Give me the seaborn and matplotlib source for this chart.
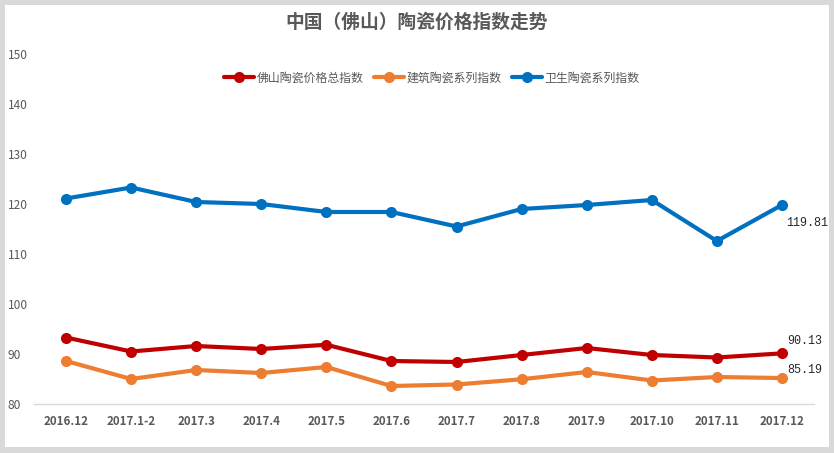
import pandas as pd
import matplotlib
matplotlib.use("Agg")
import matplotlib.pyplot as plt
from matplotlib.patches import Rectangle
import seaborn as sns

months = ["2016.12", "2017.1-2", "2017.3", "2017.4", "2017.5", "2017.6",
          "2017.7", "2017.8", "2017.9", "2017.10", "2017.11", "2017.12"]
total_index = [93.3, 90.5, 91.6, 91.0, 91.85, 88.6, 88.4, 89.8, 91.2, 89.8, 89.3, 90.13]
building_index = [88.6, 85.0, 86.8, 86.2, 87.4, 83.6, 83.9, 84.95, 86.4, 84.7, 85.4, 85.19]
sanitary_index = [121.1, 123.3, 120.4, 120.0, 118.4, 118.4, 115.5, 119.0, 119.8, 120.8, 112.6, 119.81]
series_names = ["佛山陶瓷价格总指数", "建筑陶瓷系列指数", "卫生陶瓷系列指数"]
colors = ["#C00000", "#ED7D31", "#0070C0"]

df = pd.concat([
    pd.DataFrame({"month": months, "value": vals, "series": name})
    for name, vals in zip(series_names, [total_index, building_index, sanitary_index])
])

sns.set_style("white")
plt.rcParams["font.family"] = ["Noto Sans CJK SC", "DejaVu Sans"]

fig = plt.figure(figsize=(8.34, 4.53), dpi=100)
fig.patch.set_facecolor("#d9d9d9")
fig.add_artist(Rectangle((5 / 834, 6 / 453), 824 / 834, 442 / 453,
                         transform=fig.transFigure, facecolor="white",
                         edgecolor="none", zorder=-1))
ax = fig.add_axes([33.5 / 834, 49 / 453, 781 / 834, 350 / 453])
ax.set_facecolor("none")

sns.lineplot(data=df, x="month", y="value", hue="series", hue_order=series_names,
             palette=colors, marker="o", markersize=8, markeredgewidth=0,
             linewidth=3, sort=False, ax=ax)

ax.set_xlim(-0.5, len(months) - 0.5)
ax.set_ylim(80, 150)
ax.set_yticks(range(80, 151, 10))
ax.set_xlabel("")
ax.set_ylabel("")
for s in ["top", "right", "left"]:
    ax.spines[s].set_visible(False)
ax.spines["bottom"].set_color("#d9d9d9")
ax.spines["bottom"].set_linewidth(1)
ax.tick_params(axis="both", length=0, colors="#595959")
ax.tick_params(axis="x", labelsize=8.3, pad=8)
ax.tick_params(axis="y", labelsize=8.6, pad=0)
for lab in ax.get_xticklabels():
    lab.set_fontweight("bold")
for lab in ax.get_yticklabels():
    lab.set_horizontalalignment("left")
    lab.set_x(-0.033)

handles, labels = ax.get_legend_handles_labels()
ax.legend(handles, labels, ncol=3, loc="center", bbox_to_anchor=(0.51, 0.931),
          frameon=False, fontsize=8.6, handlelength=2.5, handletextpad=0.2,
          columnspacing=0.9, labelcolor="#595959")

last = len(months) - 1
label_font = dict(fontsize=8.5, family="Liberation Mono", ha="left", va="center")
ax.annotate(f"{sanitary_index[-1]:.2f}", (last, sanitary_index[-1]), xytext=(3, -13),
            textcoords="offset points", **label_font)
ax.annotate(f"{total_index[-1]:.2f}", (last, total_index[-1]), xytext=(4, 9),
            textcoords="offset points", **label_font)
ax.annotate(f"{building_index[-1]:.2f}", (last, building_index[-1]), xytext=(4, 6),
            textcoords="offset points", **label_font)

fig.text(0.5, 1 - 22 / 453, "中国（佛山）陶瓷价格指数走势", ha="center", va="center",
         fontsize=13.5, fontweight="bold", color="#595959")

fig.savefig("out.png", dpi=100, facecolor=fig.get_facecolor())
